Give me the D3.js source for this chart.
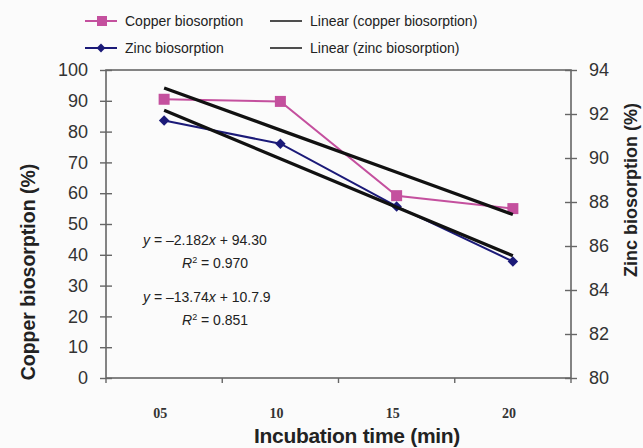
<!DOCTYPE html>
<html>
<head>
<meta charset="utf-8">
<script src="https://cdn.jsdelivr.net/npm/d3@7"></script>
<style>
  body { margin: 0; background: #fbfbfb; }
  svg { display: block; font-family: "Liberation Sans", Arial, sans-serif; }
</style>
</head>
<body>
<div id="chart"></div>
<script>
"use strict";

// incubation time categories (x axis)
const times = ["05", "10", "15", "20"];

// copper biosorption (%) - left axis
const copper = [90.5, 89.8, 59.2, 55.0];

// zinc biosorption (%) - right axis
const zinc = [91.7, 90.65, 87.8, 85.3];

// axis ticks
const copperTicks = [0, 10, 20, 30, 40, 50, 60, 70, 80, 90, 100];
const zincTicks = [80, 82, 84, 86, 88, 90, 92, 94];

// equation labels printed on the chart
const equations = [
    { eq: "y = \u20132.182x + 94.30", r2: "0.970" },
    { eq: "y = \u201313.74x + 10.7.9", r2: "0.851" }
];

const width = 643, height = 448;
const margin = { top: 70, right: 75, bottom: 70, left: 106 };
const innerW = 571 - margin.left, innerH = 378 - margin.top;

const svg = d3.select("#chart").append("svg")
    .attr("width", width)
    .attr("height", height);

const g = svg.append("g")
    .attr("transform", `translate(${margin.left},${margin.top})`);

// scales
const x = d3.scaleBand().domain(times).range([0, innerW]);
const yL = d3.scaleLinear().domain([0, 100]).range([innerH, 0]);
const yR = d3.scaleLinear().domain([80, 94]).range([innerH, 0]);

const axisColor = "#666";

// frame
g.append("rect")
    .attr("width", innerW).attr("height", innerH)
    .attr("fill", "none").attr("stroke", axisColor).attr("stroke-width", 1.6);

// left axis - ticks crossing the axis line
const leftAxis = g.append("g")
    .call(d3.axisLeft(yL).tickValues(copperTicks).tickSize(6).tickPadding(12));
leftAxis.select(".domain").remove();
leftAxis.selectAll(".tick line").attr("x2", 6).attr("x1", -6)
    .attr("stroke", axisColor).attr("stroke-width", 1.4);
leftAxis.selectAll(".tick text")
    .attr("font-size", 18).attr("fill", "#333")
    .attr("font-family", "Liberation Sans, Arial, sans-serif");

// right axis
const rightAxis = g.append("g")
    .attr("transform", `translate(${innerW},0)`)
    .call(d3.axisRight(yR).tickValues(zincTicks).tickSize(6).tickPadding(12));
rightAxis.select(".domain").remove();
rightAxis.selectAll(".tick line").attr("x1", -6).attr("x2", 6)
    .attr("stroke", axisColor).attr("stroke-width", 1.4);
rightAxis.selectAll(".tick text")
    .attr("font-size", 18).attr("fill", "#333")
    .attr("font-family", "Liberation Sans, Arial, sans-serif");

// bottom axis: ticks at band boundaries, labels at band centres
const boundaries = times.map(t => x(t)).concat([innerW]);
g.append("g").selectAll("line")
    .data(boundaries)
    .enter().append("line")
    .attr("x1", d => d).attr("x2", d => d)
    .attr("y1", innerH).attr("y2", innerH + 5)
    .attr("stroke", axisColor).attr("stroke-width", 1.4);

g.append("g").selectAll("text")
    .data(times)
    .enter().append("text")
    .attr("x", d => x(d) + x.bandwidth() / 2 - 4)
    .attr("y", innerH + 40)
    .attr("text-anchor", "middle")
    .attr("font-family", "Liberation Serif, Times New Roman, serif")
    .attr("font-weight", "bold")
    .attr("font-size", 14)
    .attr("fill", "#333")
    .text(d => d);

// axis titles
svg.append("text")
    .attr("transform", `translate(${357},${443})`)
    .attr("text-anchor", "middle")
    .attr("font-weight", "bold")
    .attr("font-size", 21)
    .attr("letter-spacing", -0.3)
    .attr("fill", "#222")
    .text("Incubation time (min)");

svg.append("text")
    .attr("transform", `translate(${35},${272}) rotate(-90)`)
    .attr("text-anchor", "middle")
    .attr("font-weight", "bold")
    .attr("font-size", 19.5)
    .attr("fill", "#222")
    .text("Copper biosorption (%)");

svg.append("text")
    .attr("transform", `translate(${637},${190}) rotate(-90)`)
    .attr("text-anchor", "middle")
    .attr("font-weight", "bold")
    .attr("font-size", 18)
    .attr("fill", "#222")
    .text("Zinc biosorption (%)");

const cx = d => x(d) + x.bandwidth() / 2;

// least squares trend over category index 1..n
function trend(values) {
    const xs = values.map((v, i) => i + 1);
    const mx = d3.mean(xs), my = d3.mean(values);
    const slope = d3.sum(xs, (xi, i) => (xi - mx) * (values[i] - my)) /
        d3.sum(xs, xi => (xi - mx) * (xi - mx));
    const icpt = my - slope * mx;
    return values.map((v, i) => slope * (i + 1) + icpt);
}

const copperColor = "#c4509e";
const zincColor = "#1b1a78";

// data lines
const lineL = d3.line().x((d, i) => cx(times[i])).y(d => yL(d));
const lineR = d3.line().x((d, i) => cx(times[i])).y(d => yR(d));

g.append("path").datum(copper).attr("d", lineL)
    .attr("fill", "none").attr("stroke", copperColor).attr("stroke-width", 2);
g.append("path").datum(zinc).attr("d", lineR)
    .attr("fill", "none").attr("stroke", zincColor).attr("stroke-width", 2);

// markers
g.append("g").selectAll("rect")
    .data(copper).enter().append("rect")
    .attr("x", (d, i) => cx(times[i]) - 5.5)
    .attr("y", d => yL(d) - 5.5)
    .attr("width", 11).attr("height", 11)
    .attr("fill", copperColor);

g.append("g").selectAll("path")
    .data(zinc).enter().append("path")
    .attr("d", d3.symbol().type(d3.symbolDiamond2).size(70))
    .attr("transform", (d, i) => `translate(${cx(times[i])},${yR(d)})`)
    .attr("fill", zincColor);

// trend lines (black)
g.append("path").datum(trend(copper)).attr("d", lineL)
    .attr("fill", "none").attr("stroke", "#111").attr("stroke-width", 3.2);
g.append("path").datum(trend(zinc)).attr("d", lineR)
    .attr("fill", "none").attr("stroke", "#111").attr("stroke-width", 3.2);

// equation texts, with italic y, x and R
const eqG = svg.append("g").attr("font-size", 14).attr("fill", "#222");
equations.forEach((e, i) => {
    const y0 = 245 + i * 57;
    const parts = e.eq.slice(1).split("x");
    const t = eqG.append("text").attr("x", 143).attr("y", y0);
    t.append("tspan").attr("font-style", "italic").text("y");
    t.append("tspan").text(parts[0]);
    t.append("tspan").attr("font-style", "italic").text("x");
    t.append("tspan").text(parts[1]);

    const r = eqG.append("text").attr("x", 182).attr("y", y0 + 23);
    r.append("tspan").attr("font-style", "italic").text("R");
    r.append("tspan").attr("font-size", 9).attr("dy", -5).text("2");
    r.append("tspan").attr("dy", 5).text(" = " + e.r2);
});

// legend
const legend = svg.append("g").attr("font-size", 14).attr("fill", "#222");
const legendItems = [
    { label: "Copper biosorption", color: copperColor, mark: "square", x: 85, y: 21 },
    { label: "Zinc biosorption", color: zincColor, mark: "diamond", x: 85, y: 48 },
    { label: "Linear (copper biosorption)", color: "#222", mark: null, x: 270, y: 21 },
    { label: "Linear (zinc biosorption)", color: "#222", mark: null, x: 270, y: 48 }
];
legendItems.forEach(item => {
    const it = legend.append("g").attr("transform", `translate(${item.x},${item.y})`);
    it.append("line").attr("x1", 0).attr("x2", 32)
        .attr("stroke", item.color).attr("stroke-width", item.mark ? 2 : 1.6);
    if (item.mark === "square") {
        it.append("rect").attr("x", 12).attr("y", -5).attr("width", 10).attr("height", 10)
            .attr("fill", item.color);
    } else if (item.mark === "diamond") {
        it.append("path").attr("d", d3.symbol().type(d3.symbolDiamond2).size(50))
            .attr("transform", "translate(16,0)").attr("fill", item.color);
    }
    it.append("text").attr("x", 40).attr("y", 5).text(item.label);
});
</script>
</body>
</html>
